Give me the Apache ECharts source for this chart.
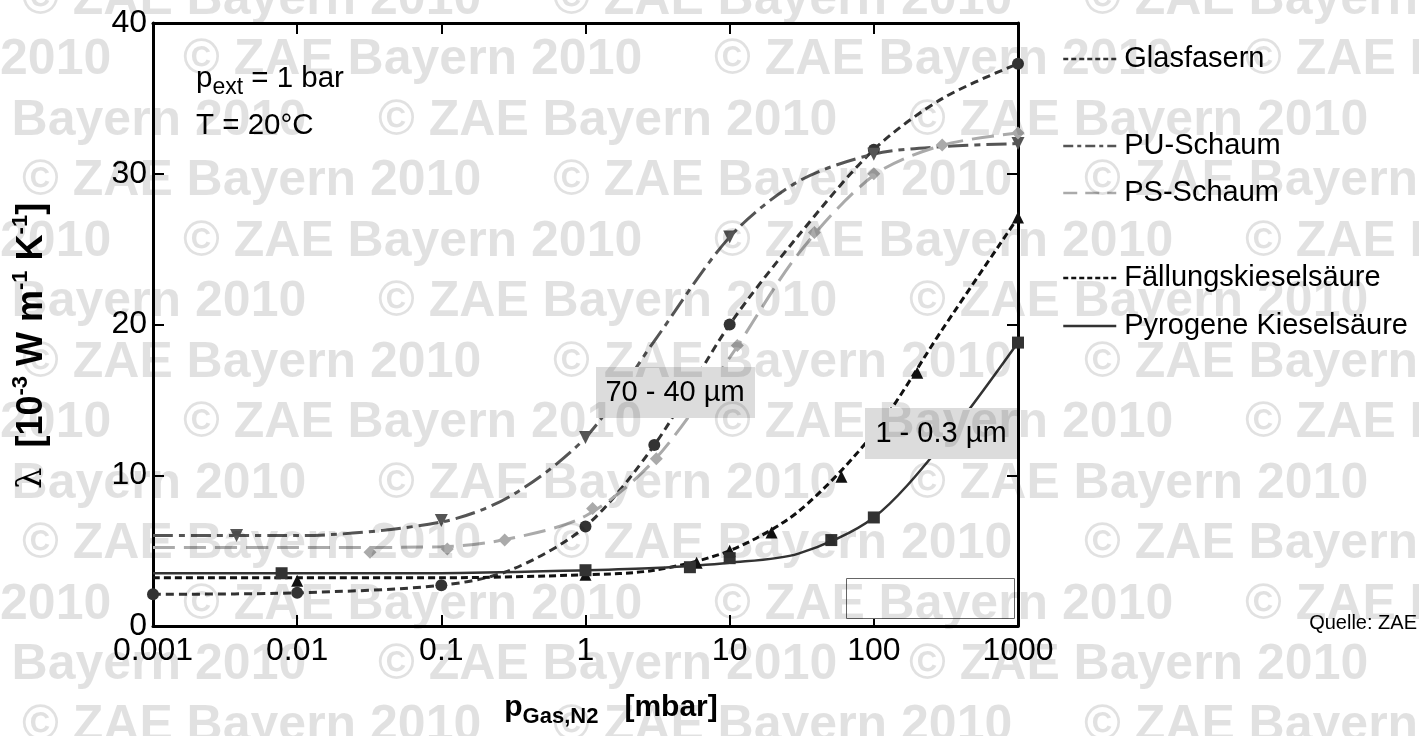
<!DOCTYPE html>
<html>
<head>
<meta charset="utf-8">
<script src="https://cdn.jsdelivr.net/npm/echarts@6/dist/echarts.min.js"></script>
<style>
html,body{margin:0;padding:0;background:#fff;}
#chart{width:1419px;height:736px;}
</style>
</head>
<body>
<div id="chart"></div>
<script>
// ---- data ----
const xTickLabels = ['0.001', '0.01', '0.1', '1', '10', '100', '1000'];
const yTickLabels = ['0', '10', '20', '30', '40'];
const seriesNames = ['Glasfasern', 'PU-Schaum', 'PS-Schaum', 'Fällungskieselsäure', 'Pyrogene Kieselsäure'];

// Glasfasern
const glasMeasP = [0.001, 0.01, 0.1, 1, 3, 10, 100, 1000];
const glasMeasL = [2.1, 2.2, 2.7, 6.6, 12.0, 20.0, 31.6, 37.3];
const glasCurveP = [0.001, 0.01, 0.1, 0.3, 1, 3, 10, 30, 100, 300, 1000];
const glasCurveL = [2.1, 2.2, 2.7, 3.7, 6.6, 12.0, 20.0, 25.9, 31.6, 35.0, 37.3];

// PU-Schaum
const puMeasP = [0.0038, 0.1, 1, 10, 100, 1000];
const puMeasL = [6.0, 7.0, 12.5, 25.8, 31.3, 32.0];
const puCurveP = [0.001, 0.01, 0.1, 0.3, 1, 3, 10, 30, 100, 300, 1000];
const puCurveL = [6.0, 6.0, 6.9, 8.6, 12.5, 18.9, 25.8, 29.5, 31.3, 31.8, 32.0];

// PS-Schaum
const psMeasP = [0.032, 0.11, 0.275, 1.12, 3.1, 11.3, 38.7, 100, 298, 1000];
const psMeasL = [4.9, 5.1, 5.7, 7.8, 11.1, 18.6, 26.1, 30.0, 31.9, 32.7];
const psCurveP = [0.001, 0.01, 0.1, 0.3, 1, 3, 10, 30, 100, 300, 1000];
const psCurveL = [5.2, 5.2, 5.25, 5.8, 7.3, 11.0, 17.8, 24.7, 29.9, 31.9, 32.7];

// Fällungskieselsäure
const faMeasP = [0.01, 1, 5.9, 10, 19.5, 59.6, 200, 1000];
const faMeasL = [3.0, 3.4, 4.2, 5.0, 6.2, 9.9, 16.8, 27.1];
const faCurveP = [0.001, 0.01, 0.1, 1, 3, 10, 30, 100, 300, 1000];
const faCurveL = [3.2, 3.2, 3.2, 3.4, 3.7, 5.0, 7.6, 12.8, 19.7, 27.1];

// Pyrogene Kieselsäure
const pyMeasP = [0.0078, 1, 5.3, 10, 50.7, 100, 1000];
const pyMeasL = [3.5, 3.7, 3.9, 4.5, 5.7, 7.2, 18.8];
const pyCurveP = [0.001, 0.01, 0.1, 1, 3, 10, 30, 100, 300, 1000];
const pyCurveL = [3.5, 3.5, 3.5, 3.7, 3.85, 4.2, 4.8, 7.2, 12.1, 18.8];

// ---- helpers ----
const zip = (xs, ys) => xs.map((x, i) => [x, ys[i]]);
const FONT = 'Liberation Sans, Arial, sans-serif';

const styles = [
  { color: '#333333', dash: [8, 5], width: 3, symbol: 'circle', size: 12, rot: 0, legDash: [5, 3] },
  { color: '#555555', dash: [20, 6, 6, 6], width: 3, symbol: 'triangle', size: 13, rot: 180, legDash: [10, 4, 4, 4] },
  { color: '#aaaaaa', dash: [22, 9], width: 3, symbol: 'diamond', size: 13, rot: 0, legDash: [14, 8] },
  { color: '#111111', dash: [7, 4], width: 3, symbol: 'triangle', size: 12, rot: 0, legDash: [5, 3] },
  { color: '#333333', dash: 'solid', width: 2.5, symbol: 'rect', size: 12, rot: 0, legDash: 'solid' }
];
const curves = [
  zip(glasCurveP, glasCurveL), zip(puCurveP, puCurveL), zip(psCurveP, psCurveL),
  zip(faCurveP, faCurveL), zip(pyCurveP, pyCurveL)
];
const meas = [
  zip(glasMeasP, glasMeasL), zip(puMeasP, puMeasL), zip(psMeasP, psMeasL),
  zip(faMeasP, faMeasL), zip(pyMeasP, pyMeasL)
];

const series = [];
seriesNames.forEach((name, i) => {
  const s = styles[i];
  series.push({
    name: name, type: 'line', data: curves[i], smooth: 0.3,
    symbol: 'none', showSymbol: false, silent: true,
    lineStyle: { color: s.color, width: s.width, type: s.dash },
    itemStyle: { color: s.color }, z: 3
  });
  series.push({
    name: name + ' (Messung)', type: 'scatter', data: meas[i], symbol: s.symbol,
    symbolSize: s.size, symbolRotate: s.rot, silent: true,
    itemStyle: { color: s.color, opacity: 1 }, z: 4
  });
});

const legendCenters = [59, 146, 193, 278, 326];
const legends = seriesNames.map((name, i) => ({
  data: [name], left: 1062, top: legendCenters[i] - 16, orient: 'horizontal',
  padding: 0, itemGap: 0, itemWidth: 53, itemHeight: 14, selectedMode: false,
  lineStyle: { type: styles[i].legDash, width: 2.5, color: styles[i].color },
  itemStyle: { color: 'rgba(0,0,0,0)', opacity: 0, borderWidth: 0 },
  textStyle: { fontFamily: FONT, fontSize: 29, color: '#000', lineHeight: 32, padding: [0, 0, 0, 3] }
}));

// watermark (tiled decoration)
const wm = [];
const wmBase = [553, 183, 378];
for (let k = 0; k <= 12; k++) {
  const y = 60.5 * k;
  for (let x = wmBase[k % 3] - 2 * 531; x < 1419; x += 531) {
    if (x + 480 < 0) continue;
    wm.push({
      type: 'text', x: x, y: y, z: 200, silent: true,
      style: { text: '© ZAE Bayern 2010', font: 'bold 50px ' + FONT, fill: 'rgba(0,0,0,0.118)',
               align: 'left', verticalAlign: 'middle' }
    });
  }
}

const graphics = [
  { type: 'text', left: 196, top: 64, z: 100,
    style: { text: '{m|p}{s|ext}{m| = 1 bar}', rich: {
      m: { fontFamily: FONT, fontSize: 29.5, lineHeight: 40, fill: '#000' },
      s: { fontFamily: FONT, fontSize: 23, lineHeight: 20, verticalAlign: 'bottom', fill: '#000' } } } },
  { type: 'text', left: 196, top: 111, z: 100,
    style: { text: 'T = 20°C', font: '29.5px ' + FONT, fill: '#000' } },
  { type: 'rect', shape: { x: 596, y: 367, width: 159, height: 51 }, z: 100,
    style: { fill: '#dcdcdc' } },
  { type: 'text', x: 675, y: 393, z: 101,
    style: { text: '70 - 40 µm', font: '29px ' + FONT, fill: '#000', align: 'center', verticalAlign: 'middle' } },
  { type: 'rect', shape: { x: 865, y: 408, width: 152, height: 51 }, z: 100,
    style: { fill: '#dcdcdc' } },
  { type: 'text', x: 941, y: 434, z: 101,
    style: { text: '1 - 0.3 µm', font: '29px ' + FONT, fill: '#000', align: 'center', verticalAlign: 'middle' } },
  { type: 'rect', shape: { x: 846.5, y: 578.5, width: 168, height: 40 }, z: 100,
    style: { fill: '#fff', stroke: '#666', lineWidth: 1 } },
  { type: 'text', x: 1417, y: 623, z: 100,
    style: { text: 'Quelle: ZAE', font: '20px ' + FONT, fill: '#000', align: 'right', verticalAlign: 'middle' } },
  { type: 'text', x: 611, y: 708, z: 100,
    style: { text: '{b|p}{s|Gas,N2}{b|[mbar]}', align: 'center', verticalAlign: 'middle', rich: {
      b: { fontFamily: FONT, fontSize: 30, fontWeight: 'bold', lineHeight: 40, fill: '#000' },
      s: { fontFamily: FONT, fontSize: 22, fontWeight: 'bold', lineHeight: 20, verticalAlign: 'bottom',
           padding: [0, 26, 0, 0], fill: '#000' } } } },
  { type: 'text', x: 32, y: 346, rotation: Math.PI / 2, z: 100,
    style: { text: '{l|λ}{b|  [10}{u|-3}{b| W m}{u|-1}{b| K}{u|-1}{b|]}', align: 'center', verticalAlign: 'middle', rich: {
      l: { fontFamily: 'DejaVu Serif, serif', fontSize: 34, lineHeight: 44, fill: '#000' },
      b: { fontFamily: FONT, fontSize: 36, fontWeight: 'bold', lineHeight: 44, fill: '#000' },
      u: { fontFamily: FONT, fontSize: 22, fontWeight: 'bold', lineHeight: 24, verticalAlign: 'top', fill: '#000' } } } }
].concat(wm);

const axisLineStyle = { color: '#000', width: 3 };
const option = {
  animation: false,
  backgroundColor: '#fff',
  grid: { left: 153, right: 401, top: 23, bottom: 110, containLabel: false },
  legend: legends,
  xAxis: [
    { type: 'log', logBase: 10, min: 0.001, max: 1000, position: 'bottom',
      axisLine: { show: true, lineStyle: axisLineStyle, onZero: false },
      axisTick: { show: true, inside: true, length: 11, lineStyle: { color: '#000', width: 2 } },
      minorTick: { show: false }, splitLine: { show: false },
      axisLabel: { margin: 9, fontFamily: FONT, fontSize: 32, color: '#000',
        formatter: v => xTickLabels[Math.round(Math.log10(v)) + 3] } },
    { type: 'log', logBase: 10, min: 0.001, max: 1000, position: 'top',
      axisLine: { show: true, lineStyle: axisLineStyle, onZero: false },
      axisTick: { show: true, inside: true, length: 11, lineStyle: { color: '#000', width: 2 } },
      splitLine: { show: false }, axisLabel: { show: false } }
  ],
  yAxis: [
    { type: 'value', min: 0, max: 40, interval: 10, position: 'left',
      axisLine: { show: true, lineStyle: axisLineStyle, onZero: false },
      axisTick: { show: true, inside: true, length: 11, lineStyle: { color: '#000', width: 2 } },
      splitLine: { show: false },
      axisLabel: { margin: 6, fontFamily: FONT, fontSize: 32, color: '#000',
        formatter: v => yTickLabels[Math.round(v / 10)] } },
    { type: 'value', min: 0, max: 40, interval: 10, position: 'right',
      axisLine: { show: true, lineStyle: axisLineStyle, onZero: false },
      axisTick: { show: true, inside: true, length: 11, lineStyle: { color: '#000', width: 2 } },
      splitLine: { show: false }, axisLabel: { show: false } }
  ],
  series: series,
  graphic: { elements: graphics }
};

const chart = echarts.init(document.getElementById('chart'), null, { renderer: 'canvas' });
chart.setOption(option);
</script>
</body>
</html>
